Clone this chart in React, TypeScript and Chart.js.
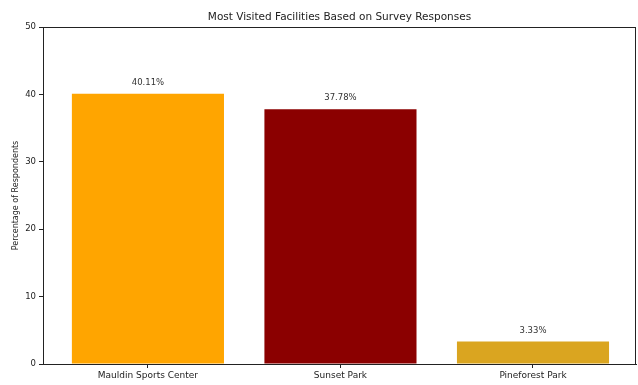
import React, { useEffect, useRef } from "react";
import { Chart, registerables } from "chart.js";

Chart.register(...registerables);

const categories = ["Mauldin Sports Center", "Sunset Park", "Pineforest Park"];
const percentages = [40.11, 37.78, 3.33];
const barColors = ["#FFA500", "#8B0000", "#DAA520"];
const yTicks = [0, 10, 20, 30, 40, 50];
const chartTitle = "Most Visited Facilities Based on Survey Responses";
const yLabel = "Percentage of Respondents";

const FONT = "'DejaVu Sans', sans-serif";

const decorPlugin = {
  id: "decor",
  afterDatasetsDraw(chart: any) {
    const { ctx, chartArea } = chart;
    const { left, right, top, bottom } = chartArea;
    ctx.save();
    ctx.strokeStyle = "#222";
    ctx.lineWidth = 1;
    ctx.strokeRect(Math.round(left) + 0.5, Math.round(top) + 0.5, Math.round(right - left) - 1, Math.round(bottom - top));
    const meta = chart.getDatasetMeta(0);
    ctx.fillStyle = "#333";
    ctx.font = `8.5px ${FONT}`;
    ctx.textAlign = "center";
    ctx.textBaseline = "alphabetic";
    meta.data.forEach((bar: any, i: number) => {
      ctx.fillText(`${percentages[i].toFixed(2)}%`, bar.x, bar.y - 9);
    });
    ctx.fillStyle = "#222";
    ctx.font = `10.5px ${FONT}`;
    ctx.textBaseline = "middle";
    ctx.fillText(chartTitle, (left + right) / 2, 17);
    ctx.font = `8px ${FONT}`;
    ctx.translate(16, (top + bottom) / 2);
    ctx.rotate(-Math.PI / 2);
    ctx.fillText(yLabel, 0, 0);
    ctx.restore();
  },
};

export default function App() {
  const ref = useRef<HTMLCanvasElement>(null);
  useEffect(() => {
    document.body.style.margin = "0";
    const chart = new Chart(ref.current as HTMLCanvasElement, {
      type: "bar",
      data: {
        datasets: [
          {
            data: percentages.map((v, i) => ({ x: i, y: v })),
            backgroundColor: barColors,
            borderWidth: 0,
            barPercentage: 0.79,
            categoryPercentage: 1,
          },
        ],
      },
      options: {
        responsive: false,
        animation: false,
        layout: { padding: { top: 27, right: 2, left: 0, bottom: 0 } },
        plugins: { legend: { display: false }, tooltip: { enabled: false }, title: { display: false } },
        scales: {
          x: {
            type: "linear",
            offset: false,
            min: -0.545,
            max: 2.535,
            afterBuildTicks: (scale: any) => {
              scale.ticks = categories.map((_, i) => ({ value: i }));
            },
            afterFit: (scale: any) => {
              scale.height = 21;
            },
            grid: { offset: false, drawOnChartArea: false, drawTicks: true, tickLength: 4, tickColor: "#222" },
            border: { display: true, color: "#222" },
            ticks: {
              autoSkip: false,
              maxRotation: 0,
              padding: 2,
              color: "#222",
              font: { family: FONT, size: 9 },
              callback: (v: any) => categories[v as number] ?? "",
            },
          },
          y: {
            min: 0,
            max: 50,
            afterBuildTicks: (scale: any) => {
              scale.ticks = yTicks.map((v) => ({ value: v }));
            },
            afterFit: (scale: any) => {
              scale.width = 43;
            },
            grid: { drawOnChartArea: false, drawTicks: true, tickLength: 4, tickColor: "#222" },
            border: { display: true, color: "#222" },
            ticks: {
              padding: 3,
              color: "#222",
              font: { family: FONT, size: 8.5 },
            },
          },
        },
      },
      plugins: [decorPlugin],
    } as any);
    return () => chart.destroy();
  }, []);
  return (
    <div style={{ width: 638, height: 385, background: "#fff" }}>
      <canvas ref={ref} width={638} height={385} />
    </div>
  );
}
